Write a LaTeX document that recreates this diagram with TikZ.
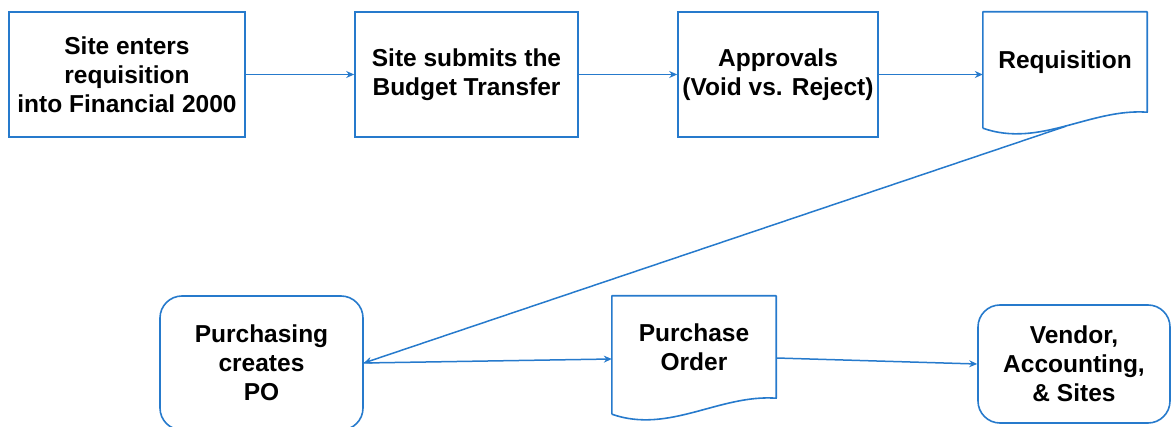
\documentclass[tikz,border=0pt]{standalone}
\usepackage{fontspec}
\setmainfont{Liberation Sans}
\usetikzlibrary{arrows.meta,calc}
\definecolor{flowblue}{RGB}{38,122,204}
\begin{document}
\begin{tikzpicture}[x=1pt,y=-1pt,
  every node/.style={font=\bfseries\fontsize{24.5}{29}\selectfont, align=center, inner sep=0pt},
  procbox/.style={draw=flowblue, line width=1.6pt, minimum height=125pt},
  roundbox/.style={draw=flowblue, line width=1.6pt, rounded corners=22pt},
  docframe/.style={minimum width=164pt, minimum height=117pt},
  docline/.style={draw=flowblue, line width=1.6pt, line join=round},
  flow/.style={draw=flowblue, line width=1.5pt, -{Stealth[length=8pt,width=7pt]}},
]
\useasboundingbox (0,0) rectangle (1172,427);

% top row
\node[procbox, minimum width=236pt] (b1) at (127,74.5) {Site enters\\requisition\\into Financial 2000};
\node[procbox, minimum width=223pt] (b2) at (466.5,74.5) {Site submits the\\Budget Transfer};
\node[procbox, minimum width=200pt] (b3) at (778,74.5) {Approvals\\(Void vs. Reject)};

% requisition document
\node[docframe, minimum height=116pt] (req) at (1065,70) {};
\draw[docline] (req.south west) -- (req.north west) -- (req.north east)
  -- ($(req.south east)+(0,-16)$) .. controls +(-57,-4) and +(57,20) .. (req.south west);
\node (reqtext) at (1065,62) {Requisition};
\coordinate (reqout) at ($(req.south)+(1,-2)$);

% bottom row
\node[roundbox, minimum width=203pt, minimum height=134pt] (pur) at (261.5,363) {Purchasing\\creates\\PO};

\node[docframe, minimum height=118pt] (po) at (694,355) {};
\draw[docline] (po.south west) -- (po.north west) -- (po.north east)
  -- ($(po.south east)+(0,-16)$) .. controls +(-57,-4) and +(57,20) .. (po.south west);
\node (potext) at (694,347) {Purchase\\Order};

\node[roundbox, minimum width=192pt, minimum height=118pt] (ven) at (1074,364) {Vendor,\\Accounting,\\\& Sites};

% connectors
\draw[flow] (b1.east) -- (b2.west);
\draw[flow] (b2.east) -- (b3.west);
\draw[flow] (b3.east) -- (b3.east -| req.west);
\draw[flow] (reqout) -- (pur.east);
\draw[flow] (pur.east) -- ($(po.west)+(0,4)$);
\draw[flow] ($(po.east)+(0,3)$) -- (ven.west);
\end{tikzpicture}
\end{document}
